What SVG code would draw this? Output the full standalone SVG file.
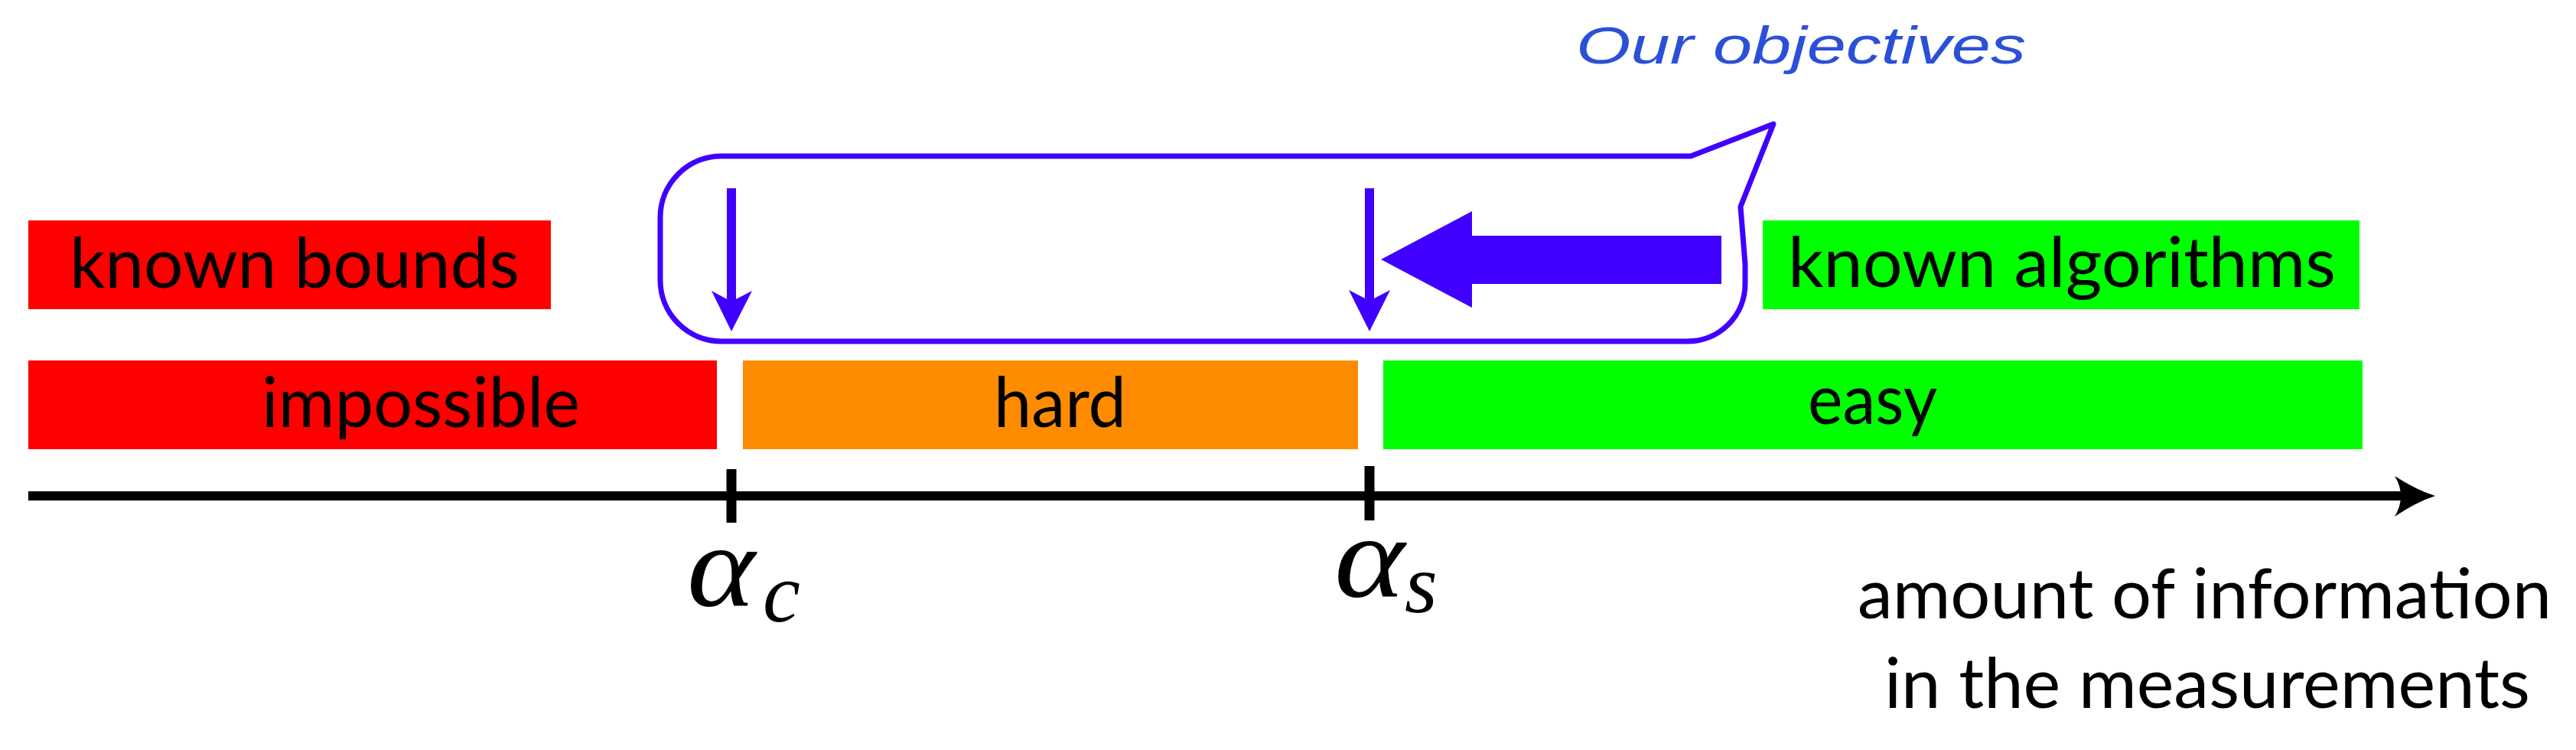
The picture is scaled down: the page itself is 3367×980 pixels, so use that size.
<svg xmlns="http://www.w3.org/2000/svg" width="3367" height="980" viewBox="0 0 3367 980">
  <style>
    .lbl { font-family: Lato, "Liberation Sans", sans-serif; font-size: 92px; fill: #000; }
    .math { font-family: "Liberation Serif", "DejaVu Serif", serif; font-style: italic; fill: #000; }
    .hand { font-family: "Liberation Sans", "DejaVu Sans", sans-serif; font-style: italic; font-size: 68px; fill: #2b50d8; }
    .blue { fill: #4000ff; }
    .bubble { fill: none; stroke: #4000ff; stroke-width: 7; stroke-linejoin: round; }
    .tick { stroke: #000; stroke-width: 13; }
  </style>
  <rect width="3367" height="980" fill="#fff"/>

  <g id="known-bounds">
    <rect x="37" y="288" width="683" height="116" fill="#ff0000"/>
    <text class="lbl" x="91" y="376" textLength="588" lengthAdjust="spacingAndGlyphs">known bounds</text>
  </g>
  <g id="known-algorithms">
    <rect x="2304" y="288" width="780" height="116" fill="#00ff00"/>
    <text class="lbl" x="2337" y="375" textLength="716" lengthAdjust="spacingAndGlyphs">known algorithms</text>
  </g>
  <g id="impossible">
    <rect x="37" y="471" width="900" height="116" fill="#ff0000"/>
    <text class="lbl" x="342" y="558" textLength="416" lengthAdjust="spacingAndGlyphs">impossible</text>
  </g>
  <g id="hard">
    <rect x="971" y="471" width="804" height="116" fill="#ff8c00"/>
    <text class="lbl" x="1299" y="558" textLength="173" lengthAdjust="spacingAndGlyphs">hard</text>
  </g>
  <g id="easy">
    <rect x="1808" y="471" width="1280" height="116" fill="#00ff00"/>
    <text class="lbl" x="2363" y="554" textLength="169" lengthAdjust="spacingAndGlyphs">easy</text>
  </g>

  <g id="objectives-bubble">
    <path class="bubble" d="M943,204 L2210,204 L2318,162 L2275,270 L2281,345 L2281,371 A75,75 0 0 1 2206,446 L943,446 A80,80 0 0 1 863,366 L863,284 A80,80 0 0 1 943,204 Z"/>
    <text class="hand" x="2060" y="83" textLength="588" lengthAdjust="spacingAndGlyphs">Our objectives</text>
  </g>

  <g id="alpha-c">
    <text class="math" x="898" y="792" font-size="152" textLength="89" lengthAdjust="spacingAndGlyphs">α</text>
    <text class="math" x="997" y="812" font-size="110">c</text>
  </g>
  <g id="alpha-s">
    <text class="math" x="1744" y="780" font-size="152" textLength="92" lengthAdjust="spacingAndGlyphs">α</text>
    <text class="math" x="1836" y="800" font-size="110">s</text>
  </g>

  <g id="axis-label">
    <text class="lbl" x="2428" y="808" textLength="907" lengthAdjust="spacingAndGlyphs">amount of information</text>
    <text class="lbl" x="2463" y="925" textLength="844" lengthAdjust="spacingAndGlyphs">in the measurements</text>
  </g>

  <g id="connectors">
    <line x1="37" y1="648" x2="3145" y2="648" stroke="#000" stroke-width="12"/>
    <path d="M3130,622 Q3158,640 3183,648 Q3158,656 3130,675 Q3146,648 3130,622 Z" fill="#000"/>
    <line class="tick" x1="956" y1="613" x2="956" y2="683"/>
    <line class="tick" x1="1790" y1="609" x2="1790" y2="680"/>
    <rect class="blue" x="950" y="246" width="12" height="150"/>
    <path class="blue" d="M956,433 L930,380 L956,394 L983,380 Z"/>
    <rect class="blue" x="1784" y="246" width="12" height="150"/>
    <path class="blue" d="M1790,433 L1763,379 L1790,393 L1817,379 Z"/>
    <path class="blue" d="M1805,339 L1924,276 L1924,308 L2250,308 L2250,371 L1924,371 L1924,402 Z"/>
  </g>
</svg>
